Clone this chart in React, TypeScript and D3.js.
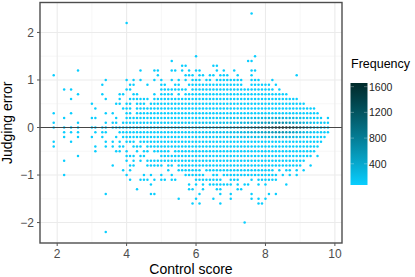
import * as d3 from "d3"

const W = 415
const H = 277

// judging error levels with the control scores seen there, [from, to] in tenths of a point
const errorLevels = [2.4, 2.2, 1.5, 1.4, 1.3, 1.2, 1.1, 1.0, 0.9, 0.8, 0.7, 0.6, 0.5, 0.4, 0.3, 0.2, 0.1, 0, -0.1, -0.2, -0.3, -0.4, -0.5, -0.6, -0.7, -0.8, -0.9, -1.0, -1.1, -1.2, -1.3, -1.4, -1.5, -1.6, -2.0, -2.2]
const scoreRuns = [
  [[76, 76]],
  [[40, 40]],
  [[60, 60], [77, 77]],
  [[53, 53], [75, 76]],
  [[56, 57], [65, 66]],
  [[26, 26], [44, 44], [48, 49], [53, 54], [56, 56], [58, 58], [60, 61], [66, 66], [68, 68], [71, 71], [76, 77]],
  [[19, 19], [49, 49], [57, 59], [61, 62], [64, 65], [67, 69], [72, 72], [76, 76], [89, 89]],
  [[34, 34], [40, 40], [42, 42], [44, 44], [48, 48], [50, 50], [53, 53], [55, 55], [57, 57], [59, 61], [63, 64], [66, 73], [76, 78], [82, 82]],
  [[33, 33], [41, 42], [46, 46], [50, 51], [54, 55], [58, 73], [76, 81], [83, 83]],
  [[22, 22], [24, 24], [40, 41], [50, 57], [59, 82], [84, 84]],
  [[26, 26], [33, 33], [38, 39], [42, 43], [48, 48], [50, 53], [55, 55], [57, 86]],
  [[24, 24], [34, 34], [38, 38], [41, 46], [48, 89]],
  [[30, 30], [37, 38], [40, 41], [43, 45], [47, 91]],
  [[31, 31], [39, 41], [43, 94]],
  [[19, 19], [24, 24], [34, 34], [36, 36], [40, 41], [43, 95]],
  [[22, 22], [30, 31], [37, 37], [40, 96], [98, 98]],
  [[19, 19], [26, 26], [34, 34], [36, 37], [39, 98]],
  [[19, 19], [22, 22], [24, 24], [26, 26], [30, 31], [33, 34], [36, 98]],
  [[22, 22], [24, 24], [26, 26], [31, 31], [33, 34], [38, 98]],
  [[22, 22], [26, 26], [30, 30], [33, 33], [37, 37], [39, 97]],
  [[19, 19], [24, 24], [34, 34], [36, 36], [38, 38], [40, 42], [44, 96]],
  [[19, 19], [31, 31], [34, 34], [36, 36], [38, 39], [42, 44], [46, 95]],
  [[31, 31], [37, 38], [40, 40], [43, 43], [45, 46], [48, 52], [54, 94]],
  [[26, 26], [40, 42], [44, 45], [50, 93], [95, 95]],
  [[22, 22], [40, 40], [42, 42], [44, 44], [46, 91]],
  [[36, 36], [41, 42], [46, 50], [52, 53], [55, 90], [93, 93]],
  [[39, 39], [41, 41], [52, 52], [55, 61], [63, 82], [84, 84], [86, 87], [89, 89], [91, 91]],
  [[22, 22], [40, 40], [45, 45], [47, 47], [50, 50], [53, 53], [57, 62], [65, 66], [68, 83], [85, 85], [87, 87], [89, 89]],
  [[41, 41], [44, 46], [48, 48], [50, 51], [53, 54], [60, 67], [70, 72], [76, 76], [78, 83]],
  [[47, 47], [58, 58], [60, 60], [62, 62], [64, 70], [72, 72], [74, 75], [78, 78], [80, 80], [86, 86]],
  [[43, 43], [58, 59], [62, 62], [66, 67], [72, 73]],
  [[34, 34], [47, 48], [61, 61], [67, 67], [70, 70], [76, 76], [81, 81], [83, 83]],
  [[55, 55], [60, 60], [65, 65], [70, 70], [76, 76], [78, 78], [80, 80]],
  [[59, 59], [61, 61], [67, 67], [78, 79]],
  [[74, 74]],
  [[34, 34]],
]

// frequencies of the crowded rows, control score 5.0 to 9.8 in tenths
const rowFreqStart = 50
const freqZero = [90, 100, 100, 110, 120, 120, 130, 140, 150, 160, 170, 180, 190, 200, 220, 230, 250, 260, 280, 300, 330, 360, 400, 440, 480, 530, 600, 680, 760, 860, 960, 1060, 1180, 1320, 1500, 1650, 1560, 1420, 1300, 1160, 1000, 820, 640, 480, 340, 240, 170, 110, 80]
const freqUp1 = [80, 80, 85, 90, 90, 95, 100, 100, 110, 110, 120, 120, 130, 140, 150, 160, 170, 180, 190, 200, 220, 240, 260, 280, 300, 320, 350, 380, 410, 450, 490, 530, 580, 620, 650, 640, 600, 550, 500, 440, 380, 310, 240, 180, 140, 110, 90, 80, 75]
const freqDown1 = [80, 80, 85, 90, 90, 95, 100, 100, 110, 110, 115, 120, 130, 135, 150, 155, 165, 175, 185, 195, 210, 230, 250, 270, 290, 310, 340, 370, 400, 430, 470, 510, 550, 590, 620, 610, 570, 520, 470, 420, 360, 290, 230, 170, 130, 100, 90, 80, 75]
const freqOuter = [75, 75, 75, 80, 80, 80, 85, 85, 90, 90, 95, 95, 100, 105, 110, 115, 120, 130, 135, 140, 150, 160, 170, 180, 190, 200, 215, 230, 245, 260, 280, 300, 320, 340, 350, 340, 320, 290, 260, 230, 200, 170, 140, 110, 95, 85, 80, 75, 72]
const baseFreq = 72

const xTicks = [2, 4, 6, 8, 10]
const xMinor = [3, 5, 7, 9]
const yTicks = [-2, -1, 0, 1, 2]
const yMinor = [-1.5, -0.5, 0.5, 1.5]
const legendTicks = [400, 800, 1200, 1600]

function freqOf(y: number, tenths: number) {
  const row = y === 0 ? freqZero : y === 0.1 ? freqUp1 : y === -0.1 ? freqDown1 : Math.abs(y) === 0.2 ? freqOuter : null
  if (!row || tenths < rowFreqStart) return baseFreq
  return row[tenths - rowFreqStart]
}

const points = errorLevels.flatMap((y, i) =>
  scoreRuns[i].flatMap(([a, b]) =>
    d3.range(a, b + 1).map((t) => ({ x: t / 10, y, f: freqOf(y, t) }))
  )
)

export default function App() {
  const x = d3.scaleLinear().domain([1.505, 10.205]).range([40, 342])
  const y = d3.scaleLinear().domain([-2.43, 2.63]).range([243, 2.5])
  const colour = d3.scaleLinear<string>().domain([70, 1657]).range(["#08ceff", "#002a2a"]).interpolate(d3.interpolateLab)
  const legendY = d3.scaleLinear().domain([70, 1657]).range([185, 83])
  const stops = d3.range(0, 1.01, 0.1)
  const font = "'Liberation Sans', Arial, sans-serif"

  return (
    <svg width={W} height={H} style={{ position: "absolute", left: 0, top: 0, background: "#fff" }} fontFamily={font}>
      <defs>
        <linearGradient id="freq" x1="0" x2="0" y1="1" y2="0">
          {stops.map((s) => (
            <stop key={s} offset={s} stopColor={colour(70 + s * (1657 - 70))} />
          ))}
        </linearGradient>
      </defs>

      {xMinor.map((t) => <line key={t} x1={x(t)} x2={x(t)} y1={2.5} y2={243} stroke="#f2f2f2" strokeWidth={0.6} />)}
      {yMinor.map((t) => <line key={t} x1={40} x2={342} y1={y(t)} y2={y(t)} stroke="#f2f2f2" strokeWidth={0.6} />)}
      {xTicks.map((t) => <line key={t} x1={x(t)} x2={x(t)} y1={2.5} y2={243} stroke="#ebebeb" strokeWidth={1.1} />)}
      {yTicks.map((t) => <line key={t} x1={40} x2={342} y1={y(t)} y2={y(t)} stroke="#ebebeb" strokeWidth={1.1} />)}

      {points.map((p, i) => (
        <circle key={i} cx={x(p.x)} cy={y(p.y)} r={1.25} fill={colour(p.f)} />
      ))}

      <line x1={40} x2={342} y1={y(0)} y2={y(0)} stroke="#333" strokeWidth={0.9} />
      <rect x={40} y={2.5} width={302} height={240.5} fill="none" stroke="#4d4d4d" strokeWidth={1.4} />

      {xTicks.map((t) => (
        <g key={t}>
          <line x1={x(t)} x2={x(t)} y1={243} y2={246} stroke="#555" strokeWidth={1} />
          <text x={x(t)} y={257.5} textAnchor="middle" fontSize={12} fill="#4d4d4d">{t}</text>
        </g>
      ))}
      {yTicks.map((t) => (
        <g key={t}>
          <line x1={37} x2={40} y1={y(t)} y2={y(t)} stroke="#555" strokeWidth={1} />
          <text x={34} y={y(t) + 4.3} textAnchor="end" fontSize={12} fill="#4d4d4d">{t < 0 ? `\u2212${-t}` : t}</text>
        </g>
      ))}

      <text x={191} y={274} textAnchor="middle" fontSize={14}>Control score</text>
      <text transform={`translate(12,${(2.5 + 243) / 2}) rotate(-90)`} textAnchor="middle" fontSize={14}>Judging error</text>

      <text x={351} y={68} fontSize={12.5}>Frequency</text>
      <rect x={350.5} y={83} width={17} height={102} fill="url(#freq)" />
      {legendTicks.map((t) => (
        <g key={t}>
          <line x1={350.5} x2={354} y1={legendY(t)} y2={legendY(t)} stroke="#fff" strokeOpacity={0.5} strokeWidth={0.6} />
          <line x1={364} x2={367.5} y1={legendY(t)} y2={legendY(t)} stroke="#fff" strokeOpacity={0.5} strokeWidth={0.6} />
          <text x={369} y={legendY(t) + 4} fontSize={10.5} fill="#222">{t}</text>
        </g>
      ))}
    </svg>
  )
}
